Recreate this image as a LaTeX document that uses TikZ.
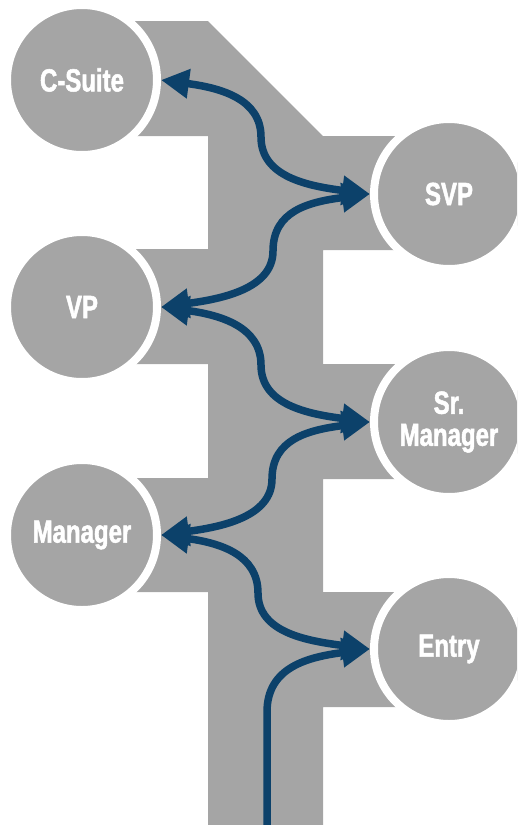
\documentclass[tikz,border=0pt]{standalone}
\usepackage{fontspec}
\usetikzlibrary{arrows.meta}
\newfontfamily\lblfont{Liberation Sans Bold}[FakeStretch=0.75,FakeBold=1.6]
\definecolor{boxgrey}{HTML}{A5A5A5}
\definecolor{navy}{HTML}{0C416A}
\tikzset{
  person/.style={circle, fill=boxgrey, draw=white, line width=8pt, minimum size=150pt,
    inner sep=0pt, text=white, align=center, font=\lblfont\fontsize{32}{32}\selectfont},
  link/.style={draw=navy, line width=7.5pt,
    {Triangle[length=28pt,width=28pt]}-{Triangle[length=28pt,width=28pt]}},
  uplink/.style={draw=navy, line width=7.5pt, -{Triangle[length=28pt,width=28pt]}},
}
\begin{document}
\begin{tikzpicture}[x=1pt,y=-1pt]
\useasboundingbox (0,0) rectangle (517,825);
\clip (0,0) rectangle (517,825);
% background trunk and branches
\fill[boxgrey] (82,21) -- (208,21) -- (323,136) -- (449,136) -- (449,250) -- (323,250)
  -- (323,364) -- (449,364) -- (449,479) -- (323,479)
  -- (323,592) -- (449,592) -- (449,707) -- (323,707)
  -- (323,825) -- (208,825)
  -- (208,592) -- (82,592) -- (82,478) -- (208,478)
  -- (208,364) -- (82,364) -- (82,249) -- (208,249)
  -- (208,136) -- (82,136) -- cycle;
% nodes
\node[person] (cs)  at (82,80)  {C-Suite};
\node[person] (svp) at (449,194) {SVP};
\node[person] (vp)  at (82,307) {VP};
\node[person] (srm) at (449,422) {Sr.\\Manager};
\node[person] (mgr) at (82,535) {Manager};
\node[person] (ent) at (449,649) {Entry};
% turning points
\coordinate (m1) at (261,137);
\coordinate (m2) at (273,251);
\coordinate (m3) at (261,365);
\coordinate (m4) at (272,479);
\coordinate (m5) at (258,593);
\coordinate (b0) at (267,825);
\coordinate (b1) at (267,712);
% connectors
\draw[link] (cs.east) .. controls +(60,8) and +(0,-38) .. (m1)
  .. controls +(0,40) and +(-62,-8) .. (svp.west);
\draw[link] (vp.east) .. controls +(60,-8) and +(0,38) .. (m2)
  .. controls +(0,-40) and +(-62,8) .. (svp.west);
\draw[link] (vp.east) .. controls +(60,8) and +(0,-38) .. (m3)
  .. controls +(0,40) and +(-62,-8) .. (srm.west);
\draw[link] (mgr.east) .. controls +(60,-8) and +(0,38) .. (m4)
  .. controls +(0,-40) and +(-62,8) .. (srm.west);
\draw[link] (mgr.east) .. controls +(60,8) and +(0,-38) .. (m5)
  .. controls +(0,40) and +(-62,-8) .. (ent.west);
\draw[uplink] (b0) -- (b1) .. controls +(0,-45) and +(-62,8) .. (ent.west);
\end{tikzpicture}
\end{document}
